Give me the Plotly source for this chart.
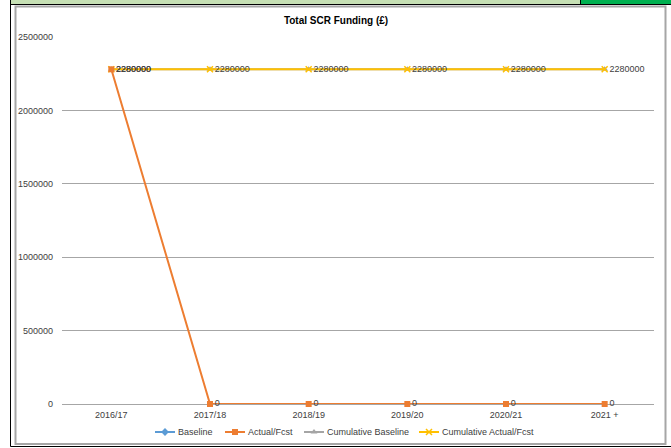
import plotly.graph_objects as go

# Financial years on the category axis
years = ["2016/17", "2017/18", "2018/19", "2019/20", "2020/21", "2021 +"]

# Funding series (£)
baseline = [None, None, None, None, None, None]
actual_fcst = [2280000, 0, 0, 0, 0, 0]
cumulative_baseline = [2280000, 2280000, 2280000, 2280000, 2280000, 2280000]
cumulative_actual_fcst = [2280000, 2280000, 2280000, 2280000, 2280000, 2280000]

series_names = ["Baseline", "Actual/Fcst", "Cumulative Baseline", "Cumulative Actual/Fcst"]
series_colors = ["#5b9bd5", "#ed7d31", "#a5a5a5", "#ffc000"]
series_symbols = ["diamond", "square", "triangle-up", "x-thin"]

W, H = 671, 448
FONT = "Liberation Sans, Arial, sans-serif"
TEXT = "#404040"


def px_x(x):
    return x / W


def px_y(y):
    return 1 - y / H


def marker_style(i, size=6):
    m = dict(symbol=series_symbols[i], size=size, color=series_colors[i])
    if series_symbols[i] == "x-thin":
        m["line"] = dict(color=series_colors[i], width=1.5)
    return m


fig = go.Figure()

values = [baseline, actual_fcst, cumulative_baseline, cumulative_actual_fcst]
labelled = {1, 3}
for i in [0, 2, 3, 1]:
    fig.add_trace(go.Scatter(
        x=years, y=values[i], name=series_names[i],
        mode="lines+markers+text" if i in labelled else "lines+markers",
        line=dict(color=series_colors[i], width=2),
        marker=marker_style(i),
        text=[str(v) for v in values[i]] if i in labelled else None,
        textposition="middle right",
        textfont=dict(family=FONT, size=9, color=TEXT),
        cliponaxis=False, showlegend=False,
    ))

# Legend drawn below the plot: short line with marker, followed by the series name
legend_line_x0 = [155, 225, 304, 419]
legend_y = 432
shapes = []
annotations = []
for i, x0 in enumerate(legend_line_x0):
    shapes.append(dict(type="line", xref="paper", yref="paper",
                       x0=px_x(x0), x1=px_x(x0 + 20), y0=px_y(legend_y), y1=px_y(legend_y),
                       line=dict(color=series_colors[i], width=2)))
    annotations.append(dict(xref="paper", yref="paper", x=px_x(x0 + 21), y=px_y(legend_y),
                            xanchor="left", yanchor="middle", showarrow=False,
                            text=series_names[i], font=dict(family=FONT, size=9, color=TEXT)))
    fig.add_trace(go.Scatter(
        x=[x0 + 10], y=[legend_y], xaxis="x2", yaxis="y2", mode="markers",
        marker=marker_style(i), showlegend=False, hoverinfo="skip", cliponaxis=False,
    ))

shapes += [
    # header strip
    dict(type="rect", xref="paper", yref="paper", x0=px_x(10), x1=px_x(580),
         y0=px_y(4), y1=px_y(0), fillcolor="#c6e0b4", line_width=0, layer="below"),
    dict(type="rect", xref="paper", yref="paper", x0=px_x(580), x1=px_x(671),
         y0=px_y(4), y1=px_y(0), fillcolor="#00b050", line_width=0, layer="below"),
    dict(type="line", xref="paper", yref="paper", x0=px_x(10), x1=px_x(671),
         y0=px_y(4.5), y1=px_y(4.5), line=dict(color="black", width=1)),
    dict(type="line", xref="paper", yref="paper", x0=px_x(580.5), x1=px_x(580.5),
         y0=px_y(0), y1=px_y(4.5), line=dict(color="black", width=1)),
    dict(type="line", xref="paper", yref="paper", x0=px_x(10.5), x1=px_x(10.5),
         y0=px_y(0), y1=px_y(446.5), line=dict(color="black", width=1)),
    dict(type="line", xref="paper", yref="paper", x0=px_x(10.5), x1=px_x(671),
         y0=px_y(446.5), y1=px_y(446.5), line=dict(color="black", width=1)),
    # chart frame
    dict(type="rect", xref="paper", yref="paper", x0=px_x(15.5), x1=px_x(665.5),
         y0=px_y(444), y1=px_y(6.5), line=dict(color="#a6a6a6", width=2),
         fillcolor="rgba(0,0,0,0)", layer="below"),
]

fig.update_layout(
    width=W, height=H,
    margin=dict(l=0, r=0, t=0, b=0),
    paper_bgcolor="white", plot_bgcolor="rgba(0,0,0,0)",
    font=dict(family=FONT, size=9, color=TEXT),
    title=dict(text="<b>Total SCR Funding (£)</b>", x=px_x(336), xanchor="center",
               y=px_y(20), yanchor="middle", font=dict(family=FONT, size=10, color="black")),
    showlegend=False,
    xaxis=dict(domain=[px_x(62), px_x(654)], type="category", range=[-0.5, 5.5],
               showgrid=False, showline=False, zeroline=False, ticks="",
               ticklabelstandoff=4,
               tickfont=dict(family=FONT, size=9, color=TEXT), automargin=False),
    yaxis=dict(domain=[px_y(404), px_y(37)], range=[0, 2500000], dtick=500000,
               showgrid=True, gridcolor="#a6a6a6", gridwidth=1,
               zeroline=True, zerolinecolor="#a6a6a6", zerolinewidth=1,
               showline=False, ticks="", tickformat="d", ticklabelstandoff=8,
               tickfont=dict(family=FONT, size=9, color=TEXT), automargin=False),
    # pixel-space overlay used for legend markers
    xaxis2=dict(domain=[0, 1], range=[0, W], visible=False, anchor="y2", fixedrange=True),
    yaxis2=dict(domain=[0, 1], range=[H, 0], visible=False, anchor="x2", fixedrange=True),
    shapes=shapes,
    annotations=annotations,
)

fig.write_html("out.html")
